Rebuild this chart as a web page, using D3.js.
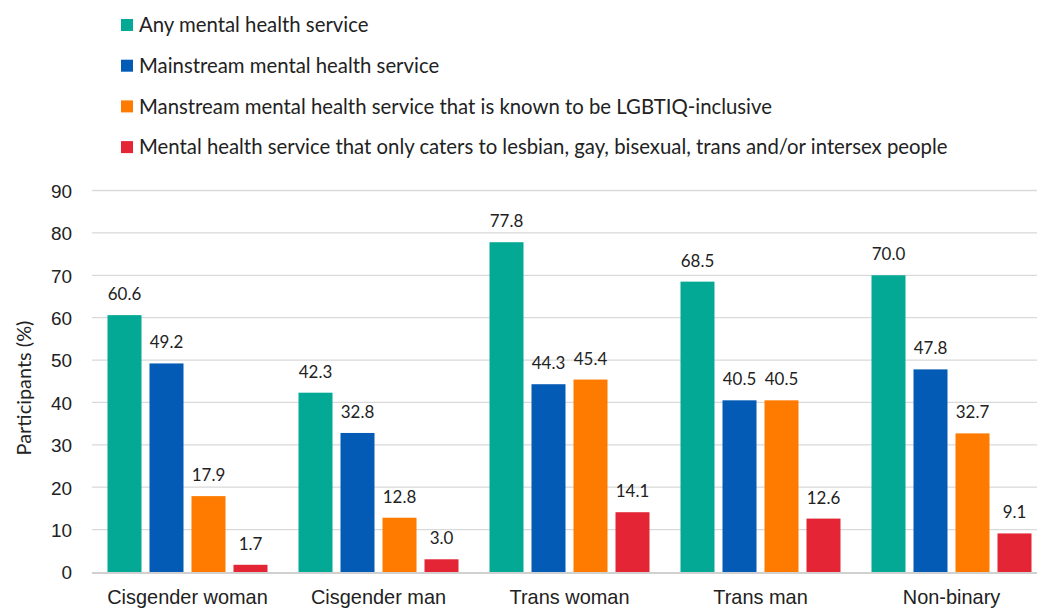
<!DOCTYPE html>
<html><head><meta charset="utf-8">
<script src="https://cdn.jsdelivr.net/npm/d3@7"></script>
<style>body{margin:0;background:#fff;}svg{display:block;font-family:Lato,"Open Sans",sans-serif;}</style>
</head><body>
<svg id="c" width="1037" height="610"></svg>
<script>
const categories = ["Cisgender woman","Cisgender man","Trans woman","Trans man","Non-binary"];
const seriesNames = [
  "Any mental health service",
  "Mainstream mental health service",
  "Manstream mental health service that is known to be LGBTIQ-inclusive",
  "Mental health service that only caters to lesbian, gay, bisexual, trans and/or intersex people"
];
const anyService = [60.6, 42.3, 77.8, 68.5, 70.0];
const mainstream = [49.2, 32.8, 44.3, 40.5, 47.8];
const inclusive = [17.9, 12.8, 45.4, 40.5, 32.7];
const lgbtiqOnly = [1.7, 3.0, 14.1, 12.6, 9.1];
const yTicks = [0,10,20,30,40,50,60,70,80,90];
const colors = ["#04A995","#035BB5","#FF7B00","#E32536"];
const series = [anyService, mainstream, inclusive, lgbtiqOnly];

const svg = d3.select("#c");
// font size that makes a sample string reach a target width
function fit(sample, target, base){
  const t = svg.append("text").attr("font-size", base).text(sample);
  const w = t.node().getComputedTextLength();
  t.remove();
  return base * target / w;
}
const fsLegend = fit(seriesNames[3], 809, 20);
const fsCat = fit("Cisgender woman", 156, 20);
const fsVal = fit("60.6", 33.5, 18);
const fsTick = fit("90", 22, 18);
const fsTitle = fit("Participants (%)", 135, 18);

const x = d3.scaleBand().domain(categories).range([92, 1047]).paddingInner(0).paddingOuter(0);
const xi = d3.scaleBand().domain(d3.range(4)).range([15.5, 191-15.5]).paddingInner(8/42).paddingOuter(0);
const y = d3.scaleLinear().domain([0,90]).range([572, 190.5]);

// gridlines
svg.append("g").selectAll("line").data(yTicks.filter(d=>d>0)).join("line")
  .attr("x1",92).attr("x2",1037).attr("y1",d=>y(d)).attr("y2",d=>y(d))
  .attr("stroke","#d9d9d9").attr("stroke-width",1.3);

// y tick labels
const yAxis = d3.axisLeft(y).tickValues(yTicks).tickSize(0).tickPadding(0).tickFormat(d3.format("d"));
const ya = svg.append("g").attr("transform","translate(72,0)").call(yAxis);
ya.select(".domain").remove();
ya.selectAll("text").attr("font-size",fsTick).attr("fill","#222").attr("font-family","inherit").attr("dy","0.36em");

// y title
svg.append("text").attr("transform","translate(31,388) rotate(-90)").attr("text-anchor","middle")
  .attr("font-size",fsTitle).attr("fill","#222").text("Participants (%)");

// bars
const groups = svg.append("g").selectAll("g").data(series).join("g").attr("fill",(d,i)=>colors[i]);
groups.each(function(vals, si){
  const g = d3.select(this);
  g.selectAll("rect").data(vals).join("rect")
    .attr("x",(v,ci)=>x(categories[ci])+xi(si))
    .attr("width",xi.bandwidth())
    .attr("y",v=>y(v)).attr("height",v=>y(0)-y(v));
  g.selectAll("text").data(vals).join("text")
    .attr("x",(v,ci)=>x(categories[ci])+xi(si)+xi.bandwidth()/2)
    .attr("y",v=>y(v)-15).attr("text-anchor","middle")
    .attr("font-size",fsVal).attr("fill","#222").text(v=>v.toFixed(1));
});

// baseline
svg.append("line").attr("x1",92).attr("x2",1037).attr("y1",y(0)+1).attr("y2",y(0)+1)
  .attr("stroke","#d0d0d0").attr("stroke-width",2);

// x axis labels
const xAxis = d3.axisBottom(x).tickSize(0).tickPadding(0);
const xa = svg.append("g").attr("transform","translate(0,604)").call(xAxis);
xa.select(".domain").remove();
xa.selectAll("text").attr("font-size",fsCat).attr("fill","#222").attr("font-family","inherit").attr("dy",0);

// legend
const leg = svg.append("g").selectAll("g").data(seriesNames).join("g")
  .attr("transform",(d,i)=>`translate(121,${25+i*40.7})`);
leg.append("rect").attr("x",0).attr("y",-6).attr("width",12).attr("height",12).attr("fill",(d,i)=>colors[i]);
leg.append("text").attr("x",18).attr("y",0).attr("dy","0.35em").attr("font-size",fsLegend).attr("fill","#222").text(d=>d);
</script>
</body></html>
